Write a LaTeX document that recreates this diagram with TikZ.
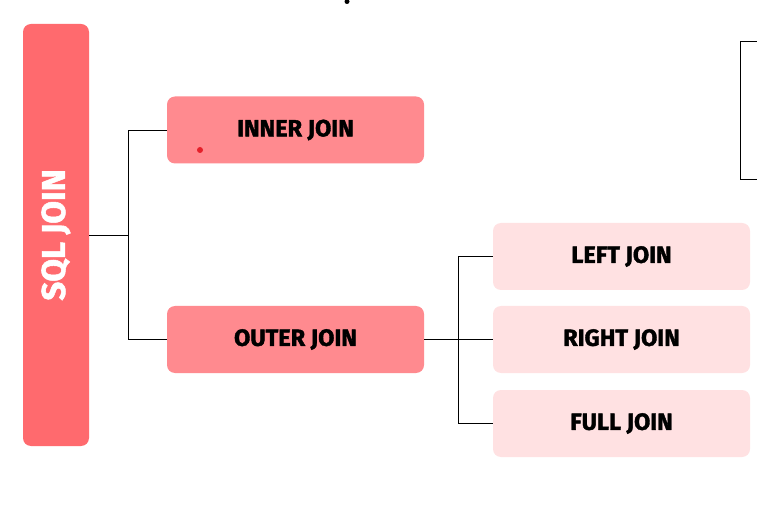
\documentclass[tikz,border=0pt]{standalone}
\usepackage{fontspec}
\setmainfont{Fira Sans}[BoldFeatures={FakeBold=1.6}]
\definecolor{rootc}{HTML}{FF6A6E}
\definecolor{midc}{HTML}{FF8A8F}
\definecolor{leafc}{HTML}{FFE1E2}
\definecolor{dotc}{HTML}{E5202A}
\begin{document}
\begin{tikzpicture}[x=1pt,y=-1pt,
  box/.style={rounded corners=8pt,inner sep=0pt,minimum width=257pt,minimum height=67pt,font=\fontsize{23.5}{25}\selectfont\bfseries,text=black},
  midbox/.style={box,fill=midc},
  leafbox/.style={box,fill=leafc},
  link/.style={draw=black,line width=0.8pt}]
\useasboundingbox (0,0) rectangle (757,510);
\fill[white] (0,0) rectangle (757,510);
\node[rounded corners=8pt,fill=rootc,minimum width=66pt,minimum height=422pt,inner sep=0pt] (root) at (56,235) {};
\node[rotate=90,text=white,font=\fontsize{33}{35}\selectfont\bfseries] (roott) at (root.center) {SQL JOIN};
\node[midbox] (inner) at (295.5,130) {INNER JOIN};
\node[midbox] (outer) at (295.5,339.5) {OUTER JOIN};
\node[leafbox] (left) at (621.5,256.5) {LEFT JOIN};
\node[leafbox] (right) at (621.5,339.5) {RIGHT JOIN};
\node[leafbox] (full) at (621.5,423.5) {FULL JOIN};
\coordinate (j1) at (128,235);
\coordinate (j2) at (458,339.5);
\draw[link] (root.east|-j1) -- (j1);
\draw[link] (j1) |- (inner.west);
\draw[link] (j1) |- (outer.west);
\draw[link] (outer.east) -- (j2);
\draw[link] (j2) |- (left.west);
\draw[link] (j2) -- (right.west);
\draw[link] (j2) |- (full.west);
\fill[dotc] (200,150) circle (3);
\fill[black] (347,1.5) circle (2.5);
\coordinate (b1) at (757,41);
\coordinate (b2) at (757,179);
\draw[link] (b1) -- (740,41) -- (740,179) -- (b2);
\end{tikzpicture}
\end{document}
